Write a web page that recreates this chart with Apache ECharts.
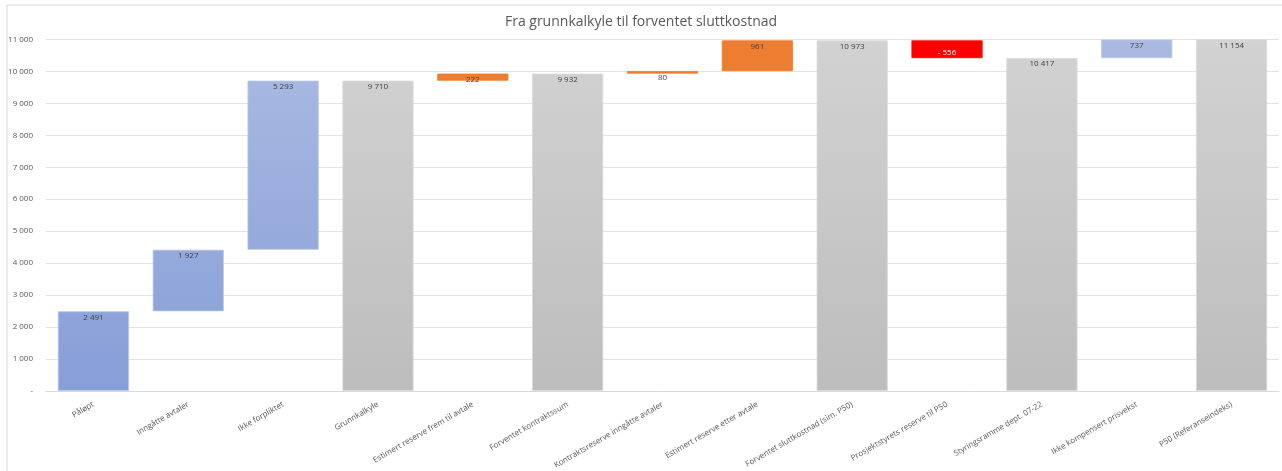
<!DOCTYPE html>
<html>
<head>
<meta charset="utf-8">
<script src="https://cdn.jsdelivr.net/npm/echarts@6/dist/echarts.min.js"></script>
<style>html,body{margin:0;padding:0;background:#fff}#c{width:1282px;height:471px}</style>
</head>
<body>
<div id="c"></div>
<script>
const titleText = 'Fra grunnkalkyle til forventet sluttkostnad';
const categories = ['Påløpt','Inngåtte avtaler','Ikke forpliktet','Grunnkalkyle','Estimert reserve frem til avtale','Forventet kontraktssum','Kontraktsreserve inngåtte avtaler','Estimert reserve etter avtale','Forventet sluttkostnad (sim. P50)','Prosjektstyrets reserve til P50','Styringsramme dept. 07-22','Ikke kompensert prisvekst','P50 (Referanseindeks)'];
const values = [2491, 1927, 5293, 9710, 222, 9932, 80, 961, 10973, -556, 10417, 737, 11154];
const barKinds = ['delta','delta','delta','total','delta','total','delta','delta','total','delta','total','delta','total'];
const colorKinds = ['blue','blue','blue','gray','orange','gray','orange','orange','gray','red','gray','blue','gray'];
const yTicks = [0,1000,2000,3000,4000,5000,6000,7000,8000,9000,10000,11000];
const yMax = 11000;

function fmt(v){
  if (v === 0) return '-';
  const s = Math.abs(v).toString().replace(/\B(?=(\d{3})+(?!\d))/g, ' ');
  return v < 0 ? '- ' + s : s;
}

const plotTop = 39.5, plotBottom = 391;
const fills = {
  blue: new echarts.graphic.LinearGradient(0, plotTop, 0, plotBottom, [{offset:0,color:'#aabae2'},{offset:1,color:'#879ed7'}], true),
  gray: new echarts.graphic.LinearGradient(0, plotTop, 0, plotBottom, [{offset:0,color:'#d2d2d2'},{offset:1,color:'#bdbdbd'}], true),
  orange: '#ed7d31',
  red: '#ff0000'
};
const borders = {blue:'#b9c6ea', gray:'#dadada', orange:'#ed7d31', red:'#ff0000'};

let running = 0;
const baseData = [], barData = [];
values.forEach((v, i) => {
  let a, b;
  if (barKinds[i] === 'total') { a = 0; b = v; running = v; }
  else { a = running; b = running + v; running = b; }
  const lo = Math.min(a, b), hi = Math.min(Math.max(a, b), yMax);
  baseData.push(lo);
  let pos = 'insideTop', dist = 2, col = '#404040';
  if (colorKinds[i] === 'red') { pos = 'insideBottom'; dist = 1; col = '#ffffff'; }
  if (colorKinds[i] !== 'red' && Math.abs(v) < 100) { pos = 'bottom'; dist = 0; }
  barData.push({
    value: hi - lo,
    itemStyle: {color: fills[colorKinds[i]], borderColor: borders[colorKinds[i]], borderWidth: 0.8},
    label: {show: true, position: pos, distance: dist, color: col, formatter: () => fmt(values[i])}
  });
});

const chart = echarts.init(document.getElementById('c'));
chart.setOption({
  animation: false,
  title: {text: titleText, left: 'center', top: 10, textStyle: {fontFamily: 'Open Sans', fontWeight: 'normal', fontSize: 14, color: '#595959'}},
  graphic: [{type:'rect', shape:{x:7, y:5, width:1300, height:600}, style:{fill:'none', stroke:'#d9d9d9', lineWidth:1}, silent:true}],
  grid: {left: 46, right: 3, top: plotTop, bottom: 471 - plotBottom, containLabel: false},
  xAxis: {
    type: 'category', data: categories,
    axisLine: {lineStyle: {color: '#d9d9d9'}},
    axisTick: {show: false},
    axisLabel: {interval: 0, rotate: 30, fontSize: 8, color: '#595959', fontFamily: 'Open Sans', margin: 13}
  },
  yAxis: {
    type: 'value', min: 0, max: yMax, interval: 1000,
    axisLine: {show: false}, axisTick: {show: false},
    splitLine: {lineStyle: {color: '#e3e3e3'}},
    axisLabel: {fontSize: 8, color: '#595959', fontFamily: 'Open Sans', margin: 13, formatter: v => yTicks.includes(v) ? fmt(v) : ''}
  },
  series: [
    {type: 'bar', stack: 'w', data: baseData, itemStyle: {color: 'transparent'}, barCategoryGap: '25%', silent: true},
    {type: 'bar', stack: 'w', data: barData, barCategoryGap: '25%',
     label: {fontSize: 8, fontFamily: 'Open Sans'}}
  ]
});
</script>
</body>
</html>
